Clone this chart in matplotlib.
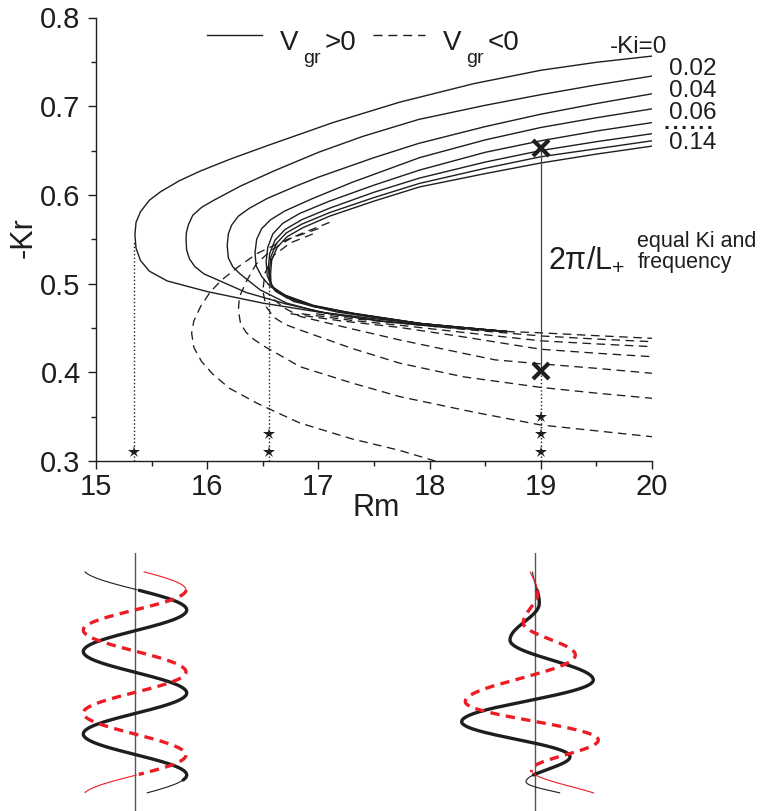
import matplotlib
matplotlib.use("Agg")
import matplotlib.pyplot as plt
import numpy as np

plt.rcParams["font.family"] = ["Liberation Sans", "DejaVu Sans"]
plt.rcParams["mathtext.fontset"] = "custom"
plt.rcParams["mathtext.rm"] = "Liberation Sans"
plt.rcParams["mathtext.it"] = "Liberation Sans:italic"

INK = "#1e1e1e"
RED = "#ec1c24"

# -Ki values of the dispersion curves (outer to inner)
ki_values = [0.0, 0.02, 0.04, 0.06, 0.08, 0.10, 0.12, 0.14]

# each curve: from Rm=20 on the upper branch, round the turning point, to the lower end
curve_rm = [
    [20, 19.5, 19.0, 18.4, 17.73, 17.13, 16.54, 16.2, 15.94, 15.75, 15.58, 15.48, 15.40, 15.36, 15.35,
     15.36, 15.40, 15.48, 15.64, 16.0, 16.5, 17.0, 17.55, 18.1, 18.69],
    [20, 19.5, 19.0, 18.5, 17.9, 17.4, 17.0, 16.6, 16.3, 16.06, 15.95, 15.87, 15.83, 15.812, 15.81,
     15.815, 15.84, 15.89, 15.97, 16.115, 16.35, 16.71, 17.1, 17.6, 18.1, 18.69],
    [20, 19.5, 19.0, 18.5, 17.9, 17.5, 17.0, 16.8, 16.54, 16.38, 16.28, 16.22, 16.19, 16.18,
     16.19, 16.23, 16.295, 16.475, 16.715, 17.01, 17.46, 17.91, 18.3, 18.69],
    [20, 19.5, 19.0, 18.5, 17.91, 17.3, 16.95, 16.7, 16.57, 16.49, 16.445, 16.43,
     16.44, 16.49, 16.565, 16.775, 17.165, 17.6, 18.1, 18.69],
    [20, 19.5, 19.0, 18.5, 17.91, 17.5, 17.1, 16.83, 16.68, 16.59, 16.545, 16.53,
     16.54, 16.58, 16.7, 16.955, 17.314, 17.914, 18.3, 18.69],
    [20, 19.5, 19.0, 18.5, 17.91, 17.5, 17.1, 16.85, 16.7, 16.61, 16.562, 16.55,
     16.56, 16.6, 16.715, 16.955, 17.314, 17.914, 18.3, 18.69],
    [20, 19.5, 19.0, 18.5, 17.91, 17.5, 17.1, 16.85, 16.71, 16.62, 16.572, 16.56,
     16.568, 16.61, 16.715, 16.955, 17.314, 17.914, 18.3, 18.69],
    [20, 19.5, 19.0, 18.5, 17.91, 17.5, 17.1, 16.86, 16.72, 16.63, 16.58, 16.57,
     16.575, 16.62, 16.715, 16.955, 17.314, 17.914, 18.3, 18.69],
]
curve_kr = [
    [0.7565, 0.7495, 0.7405, 0.7255, 0.7045, 0.6815, 0.6555, 0.640, 0.627, 0.616, 0.6035, 0.594, 0.581,
     0.569, 0.555, 0.540, 0.526, 0.514, 0.503, 0.491, 0.478, 0.468, 0.458, 0.452, 0.446],
    [0.734, 0.724, 0.713, 0.701, 0.685, 0.666, 0.648, 0.627, 0.610, 0.594, 0.586, 0.577, 0.566, 0.557, 0.549,
     0.538, 0.528, 0.519, 0.511, 0.503, 0.490, 0.477, 0.466, 0.457, 0.451, 0.446],
    [0.714, 0.703, 0.691, 0.677, 0.658, 0.642, 0.620, 0.610, 0.596, 0.585, 0.576, 0.566, 0.556, 0.543,
     0.529, 0.519, 0.511, 0.493, 0.478, 0.468, 0.461, 0.455, 0.450, 0.446],
    [0.697, 0.687, 0.676, 0.662, 0.642, 0.614, 0.596, 0.582, 0.572, 0.562, 0.550, 0.535,
     0.520, 0.508, 0.497, 0.480, 0.468, 0.460, 0.452, 0.446],
    [0.6815, 0.672, 0.661, 0.648, 0.628, 0.611, 0.593, 0.579, 0.568, 0.556, 0.541, 0.525,
     0.509, 0.497, 0.487, 0.4755, 0.4665, 0.455, 0.4505, 0.446],
    [0.669, 0.660, 0.650, 0.637, 0.619, 0.603, 0.585, 0.572, 0.561, 0.549, 0.534, 0.518,
     0.504, 0.494, 0.486, 0.475, 0.466, 0.455, 0.4505, 0.446],
    [0.661, 0.652, 0.643, 0.630, 0.613, 0.597, 0.580, 0.567, 0.557, 0.545, 0.530, 0.514,
     0.501, 0.492, 0.485, 0.4745, 0.466, 0.455, 0.4505, 0.446],
    [0.655, 0.646, 0.636, 0.624, 0.609, 0.593, 0.576, 0.563, 0.553, 0.541, 0.527, 0.511,
     0.499, 0.491, 0.484, 0.474, 0.4665, 0.4552, 0.4505, 0.446],
]

# branches with negative group velocity
dashed_rm = [
    [18.69, 19.0, 19.5, 20],
    [16.98, 17.3, 17.734, 18.3, 19.0, 19.5, 20],
    [16.85, 17.3, 17.734, 18.3, 19.0, 19.5, 20],
    [16.75, 17.2, 17.734, 18.3, 19.0, 19.5, 20],
    [16.6, 16.7, 16.835, 17.3, 17.734, 18.3, 18.59, 19.0, 19.5, 20],
    [16.95, 16.75, 16.6, 16.52, 16.5, 16.53, 16.6, 16.7, 16.835, 17.3, 17.734, 18.3, 19.0, 19.5, 20],
    [17.0, 16.75, 16.57, 16.44, 16.35, 16.29, 16.28, 16.30, 16.35, 16.42, 16.53, 16.63, 16.835,
     17.3, 17.734, 18.4, 19.0, 19.5, 20],
    [17.1, 16.86, 16.65, 16.45, 16.28, 16.13, 16.03, 15.94, 15.88, 15.86, 15.88, 15.95, 16.05,
     16.2, 16.45, 16.83, 17.3, 17.73, 18.05],
]
dashed_kr = [
    [0.446, 0.4445, 0.4413, 0.4383],
    [0.466, 0.4605, 0.4555, 0.4485, 0.4410, 0.4375, 0.4345],
    [0.466, 0.4585, 0.4530, 0.4450, 0.4355, 0.4320, 0.4289],
    [0.466, 0.458, 0.4505, 0.440, 0.426, 0.4215, 0.4176],
    [0.482, 0.472, 0.463, 0.449, 0.4364, 0.4215, 0.414, 0.4095, 0.4045, 0.3989],
    [0.556, 0.546, 0.532, 0.512, 0.492, 0.474, 0.462, 0.454, 0.4477, 0.427, 0.4102, 0.395, 0.383,
     0.3765, 0.3707],
    [0.562, 0.551, 0.537, 0.522, 0.502, 0.485, 0.470, 0.455, 0.445, 0.437, 0.428, 0.421, 0.4063,
     0.388, 0.3725, 0.355, 0.3406, 0.334, 0.3274],
    [0.569, 0.557, 0.546, 0.534, 0.519, 0.504, 0.491, 0.474, 0.458, 0.444, 0.428, 0.412, 0.398,
     0.382, 0.365, 0.343, 0.325, 0.312, 0.300],
]

# critical Rm and the starred wavenumbers
critical_rm = [15.345, 16.558, 19.0]
critical_top = [0.548, 0.512, 0.402]
star_rm = [15.345, 16.558, 16.558, 19.0, 19.0, 19.0]
star_kr = [0.31, 0.31, 0.33, 0.31, 0.33, 0.35]
cross_rm = [19.0, 19.0]
cross_kr = [0.6525, 0.402]

# wave sketches: turning points (depth below panel top, sideways offset)
left_black_d = [15.5, 57, 98.5, 140, 181, 222, 264]
left_black_x = [-51.7, 51.7, -51.7, 51.7, -51.7, 51.7, -51.7]
left_red_d = [-4, 37, 77, 119, 160, 202, 243]
left_red_x = [-51.7, 51.0, -51.7, 51.0, -51.7, 51.0, -51.7]
right_black_d = [15, 50.3, 87, 127, 168.7, 203.7, 228.7, 248]
right_black_x = [-3, 4, -25.3, 58, -73.6, 34.7, -9.3, 45]
right_red_d = [10, 40, 70, 102, 148.7, 187, 217, 250]
right_red_x = [-7, 2.5, -12, 40, -70, 63, -4, 75]


def wave_path(ext_d, ext_x, d0, d1, n=60):
    ds, xs = [], []
    for i in range(len(ext_d) - 1):
        t = np.linspace(0, 1, n)
        ds.append(ext_d[i] + (ext_d[i + 1] - ext_d[i]) * t)
        xs.append(ext_x[i] + (ext_x[i + 1] - ext_x[i]) * (1 - np.cos(np.pi * t)) / 2)
    ds = np.concatenate(ds)
    xs = np.concatenate(xs)
    keep = (ds >= d0) & (ds <= d1)
    return xs[keep], ds[keep]


def draw_wave(pax, ext_d, ext_x, span, thick, color, dashes=None):
    # thin tails at both ends, heavy line in between
    for d0, d1 in [(span[0], thick[0]), (thick[1], span[1])]:
        x, d = wave_path(ext_d, ext_x, d0, d1)
        pax.plot(x, d, color=color, lw=0.8)
    x, d = wave_path(ext_d, ext_x, *thick)
    if dashes is None:
        pax.plot(x, d, color=color, lw=2.4, solid_capstyle="round")
    else:
        pax.plot(x, d, color=color, lw=2.4, dashes=dashes)


W, H = 770, 811
fig = plt.figure(figsize=(W / 100, H / 100), dpi=100)
ax = fig.add_axes([96 / W, (H - 461) / H, 556 / W, 443.5 / H])

for rm, kr in zip(curve_rm, curve_kr):
    ax.plot(rm, kr, "-", color=INK, lw=1.0, solid_joinstyle="round")
for rm, kr in zip(dashed_rm, dashed_kr):
    ax.plot(rm, kr, color=INK, lw=0.95, dashes=(6.5, 4.2))

for x, top in zip(critical_rm, critical_top):
    ax.plot([x, x], [0.3, top], ":", color=INK, lw=1.0)
ax.plot([cross_rm[0], cross_rm[1]], [cross_kr[1], cross_kr[0]], "-", color="#444444", lw=0.9)
ax.plot(star_rm, star_kr, "*", color=INK, ms=9, mew=0, clip_on=False)
ax.plot(cross_rm, cross_kr, "x", color=INK, ms=11, mew=3.0)

ax.set_xlim(15, 20)
ax.set_ylim(0.3, 0.8)
ax.set_xticks(np.arange(15, 21, 1))
ax.set_xticks(np.arange(15.5, 20, 1), minor=True)
ax.set_yticks(np.arange(0.3, 0.81, 0.1))
ax.set_yticks(np.arange(0.35, 0.8, 0.1), minor=True)
ax.set_yticklabels(["0.3", "0.4", "0.5", "0.6", "0.7", "0.8"])
for side in ["top", "right"]:
    ax.spines[side].set_visible(False)
for side in ["left", "bottom"]:
    ax.spines[side].set_linewidth(1.0)
    ax.spines[side].set_color(INK)
ax.tick_params(which="both", direction="out", color=INK, width=1.0, labelcolor=INK)
ax.tick_params(which="major", length=6)
ax.tick_params(which="minor", length=3.5)
ax.tick_params(axis="x", labelsize=21, pad=2.5)
ax.tick_params(axis="y", labelsize=21, pad=5.0)

tr = ax.transAxes
ax.set_xlabel("Rm", fontsize=22, color=INK)
ax.xaxis.set_label_coords(0.5036, -0.072)
ax.text(-0.131, 0.503, "-Kr", fontsize=22, color=INK, rotation=90,
        ha="center", va="center", transform=tr)

# legend drawn by hand
ax.plot([0.1996, 0.2986], [0.9605, 0.9605], "-", color=INK, lw=1.0, transform=tr, clip_on=False)
ax.plot([0.498, 0.592], [0.9605, 0.9605], color=INK, lw=1.0, dashes=(6.5, 4.2),
        transform=tr, clip_on=False)
for x0, sign in [(0.331, ">0"), (0.6246, "<0")]:
    ax.text(x0, 0.9267, "V", fontsize=20, color=INK, transform=tr, va="baseline")
    ax.text(x0 + 0.041, 0.8974, "gr", fontsize=14, color=INK, transform=tr, va="baseline")
    ax.text(x0 + 0.0795, 0.9267, sign, fontsize=20, color=INK, transform=tr, va="baseline")

# -Ki labels at the right end of the curves
ax.text(0.9245, 0.9193, "-Ki=0", fontsize=17.5, color=INK, transform=tr, va="baseline")
label_y = [0.8703, 0.8214, 0.7705, 0.7046]
for txt, y in zip(["0.02", "0.04", "0.06", "0.14"], label_y):
    ax.text(1.030, y, txt, fontsize=17.5, color=INK, transform=tr, va="baseline")
ax.plot([1.024, 1.107], [0.7538, 0.7538], color=INK, lw=2.2, dashes=(1, 1.8),
        transform=tr, clip_on=False)

ax.text(0.813, 0.4345, r"2π/L$_{+}$", fontsize=22, color=INK, transform=tr, va="baseline")
ax.text(0.9736, 0.4835, "equal Ki and", fontsize=15.5, color=INK, transform=tr, va="baseline")
ax.text(0.9736, 0.4345, "frequency", fontsize=15.5, color=INK, transform=tr, va="baseline")

# wave sketches below the plot
panels = [
    (135, left_black_d, left_black_x, (37, 227), left_red_d, left_red_x, (37, 222)),
    (535.3, right_black_d, right_black_x, (37, 222), right_red_d, right_red_x, (37, 219)),
]
for cx, bd, bx, b_thick, rd, rx, r_thick in panels:
    pax = fig.add_axes([(cx - 80) / W, 0, 160 / W, 258 / H])
    pax.set_xlim(-80, 80)
    pax.set_ylim(258, 0)
    pax.axis("off")
    pax.axvline(0, color="#555555", lw=1.0)
    draw_wave(pax, bd, bx, (18.7, 240), b_thick, INK)
    draw_wave(pax, rd, rx, (18.7, 240), r_thick, RED, dashes=(2.8, 1.9))

fig.savefig("out.png", dpi=100)
